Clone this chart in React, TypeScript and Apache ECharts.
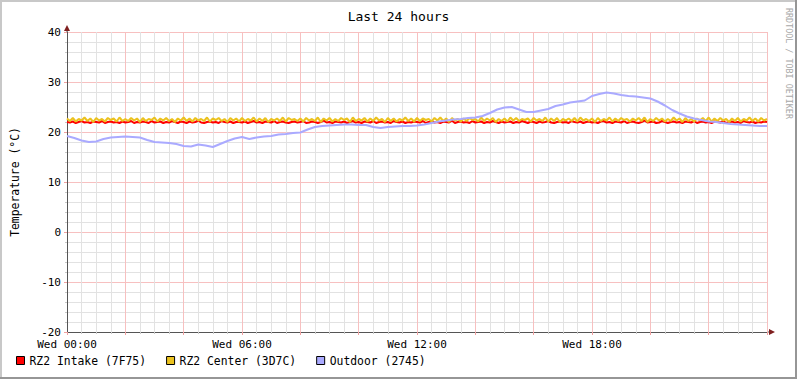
import React, { useEffect, useRef } from 'react';
import * as echarts from 'echarts';

const TITLE = 'Last 24 hours';
const Y_NAME = 'Temperature (°C)';
const WATERMARK = 'RRDTOOL / TOBI OETIKER';
const SERIES_NAMES = ['RZ2 Intake (7F75)', 'RZ2 Center (3D7C)', 'Outdoor (2745)'];
const SERIES_COLORS = ['#FF0000', '#EBC21E', '#AAAAFF'];
const X_LABEL_HOURS = [0, 6, 12, 18];
const X_TICK_LABELS = ['Wed 00:00', 'Wed 06:00', 'Wed 12:00', 'Wed 18:00'];
const Y_MIN = -20;
const Y_MAX = 40;
const Y_STEP = 10;

// 6-minute samples (0.1 h) over 24 h
const FINE_STEP_H = 0.1;
const INTAKE = [
  22.0, 21.9, 22.1, 21.8, 22.0, 22.2, 21.9, 22.0, 21.8, 22.1, 22.0, 21.9, 22.2, 21.8, 22.0, 22.1, 21.9, 22.0, 21.8, 22.1,
  21.9, 22.0, 22.2, 21.8, 22.0, 21.9, 22.1, 22.0, 21.8, 22.2, 21.9, 22.0, 22.1, 21.8, 22.0, 21.9, 22.2, 22.0, 21.8, 22.1,
  22.0, 21.8, 22.1, 21.9, 22.0, 22.3, 21.9, 21.8, 22.0, 22.1, 21.9, 22.0, 21.8, 22.2, 22.0, 21.9, 22.1, 21.8, 22.0, 22.0,
  21.9, 22.1, 21.8, 22.0, 22.2, 21.9, 22.0, 21.8, 22.1, 22.0, 21.9, 22.2, 21.8, 22.0, 22.1, 21.9, 21.8, 22.0, 22.1, 21.9,
  22.0, 22.2, 21.8, 21.9, 22.1, 22.0, 21.8, 22.0, 22.3, 21.9, 22.0, 21.8, 22.1, 22.0, 21.9, 22.1, 21.8, 22.0, 22.2, 21.9,
  22.0, 21.8, 22.1, 22.0, 21.9, 22.2, 21.8, 22.0, 22.1, 21.9, 22.0, 21.8, 22.2, 22.0, 21.9, 22.1, 21.8, 22.0, 21.9, 22.1,
  22.0, 21.9, 22.2, 21.8, 22.0, 22.1, 21.9, 22.0, 21.8, 22.1, 22.0, 21.9, 22.3, 21.8, 22.0, 22.1, 21.9, 22.0, 21.8, 22.2,
  21.9, 22.0, 22.1, 21.8, 22.0, 21.9, 22.2, 22.0, 21.8, 22.1, 21.9, 22.0, 22.1, 21.8, 22.0, 21.9, 22.2, 22.0, 21.8, 22.1,
  22.0, 21.8, 22.1, 21.9, 22.0, 22.2, 21.9, 21.8, 22.0, 22.1, 21.9, 22.0, 21.8, 22.2, 22.0, 21.9, 22.1, 21.8, 22.0, 22.1,
  21.9, 22.0, 21.8, 22.1, 22.2, 21.9, 22.0, 21.8, 22.1, 22.0, 21.9, 22.2, 21.8, 22.0, 22.1, 21.9, 21.8, 22.0, 22.3, 21.9,
  22.0, 22.1, 21.8, 21.9, 22.2, 22.0, 21.8, 22.0, 22.1, 21.9, 22.0, 21.8, 22.1, 22.0, 21.9, 22.2, 21.8, 22.0, 22.1, 21.9,
  22.0, 21.8, 22.1, 22.0, 21.9, 22.2, 21.8, 22.0, 22.1, 21.9, 22.0, 21.8, 22.2, 22.0, 21.9, 22.1, 21.8, 22.0, 21.9, 22.1,
  22.0,
];
const CENTER = [
  22.7, 22.2, 22.8, 22.1, 22.6, 22.3, 22.9, 22.2, 22.7, 22.0, 22.8, 22.3, 22.6, 22.1, 22.8, 22.4, 22.7, 22.1, 22.9, 22.2,
  22.6, 22.2, 22.8, 22.3, 22.7, 22.0, 22.8, 22.2, 22.6, 22.4, 22.9, 22.1, 22.7, 22.3, 22.8, 22.2, 22.6, 22.0, 22.7, 22.3,
  22.9, 22.2, 22.7, 22.1, 22.8, 22.3, 22.6, 22.2, 22.9, 22.1, 22.7, 22.4, 22.8, 22.2, 22.6, 22.0, 22.8, 22.3, 22.7, 22.1,
  22.8, 22.2, 22.6, 22.3, 22.9, 22.1, 22.7, 22.2, 22.8, 22.0, 22.6, 22.3, 22.7, 22.2, 22.9, 22.1, 22.8, 22.4, 22.6, 22.2,
  22.7, 22.1, 22.8, 22.3, 22.6, 22.2, 22.9, 22.0, 22.7, 22.3, 22.8, 22.1, 22.6, 22.2, 22.8, 22.4, 22.7, 22.0, 22.9, 22.2,
  22.6, 22.3, 22.8, 22.1, 22.7, 22.2, 22.9, 22.3, 22.6, 22.0, 22.8, 22.2, 22.7, 22.1, 22.6, 22.3, 22.9, 22.2, 22.7, 22.1,
  22.8, 22.2, 22.7, 22.4, 22.6, 22.1, 22.8, 22.3, 22.9, 22.2, 22.7, 22.0, 22.8, 22.3, 22.6, 22.1, 22.7, 22.2, 22.8, 22.4,
  22.6, 22.1, 22.9, 22.2, 22.7, 22.3, 22.8, 22.0, 22.6, 22.2, 22.7, 22.1, 22.9, 22.3, 22.8, 22.2, 22.6, 22.4, 22.7, 22.1,
  22.8, 22.3, 22.6, 22.2, 22.9, 22.1, 22.7, 22.2, 22.8, 22.0, 22.6, 22.3, 22.7, 22.2, 22.8, 22.1, 22.9, 22.3, 22.6, 22.2,
  22.7, 22.0, 22.8, 22.2, 22.6, 22.3, 22.9, 22.1, 22.7, 22.2, 22.8, 22.4, 22.6, 22.1, 22.7, 22.3, 22.8, 22.2, 22.9, 22.0,
  22.6, 22.2, 22.8, 22.3, 22.7, 22.1, 22.6, 22.2, 22.9, 22.3, 22.7, 22.0, 22.8, 22.2, 22.6, 22.1, 22.7, 22.3, 22.8, 22.2,
  22.9, 22.1, 22.7, 22.2, 22.8, 22.3, 22.6, 22.0, 22.7, 22.2, 22.8, 22.1, 22.6, 22.3, 22.9, 22.2, 22.7, 22.1, 22.8, 22.3,
  22.6,
];

// 15-minute samples (0.25 h) over 24 h
const OUTDOOR_STEP_H = 0.25;
const OUTDOOR = [
  19.2, 18.8, 18.3, 18.0, 18.1, 18.6, 18.9, 19.0, 19.1, 19.0, 18.9, 18.4, 18.0, 17.9, 17.8, 17.6,
  17.2, 17.1, 17.5, 17.3, 17.0, 17.6, 18.2, 18.7, 19.0, 18.6, 18.9, 19.1, 19.2, 19.5, 19.6, 19.8,
  19.9, 20.5, 21.0, 21.2, 21.3, 21.4, 21.5, 21.5, 21.4, 21.4, 21.0, 20.8, 21.0, 21.1, 21.2, 21.2,
  21.3, 21.5, 21.8, 22.1, 22.3, 22.5, 22.6, 22.8, 22.9, 23.2, 23.8, 24.5, 24.9, 25.0, 24.5, 24.0,
  24.0, 24.3, 24.6, 25.2, 25.5, 25.9, 26.1, 26.3, 27.2, 27.6, 27.9, 27.7, 27.4, 27.2, 27.1, 26.9,
  26.7, 26.1, 25.3, 24.4, 23.7, 23.1, 22.7, 22.4, 22.1, 22.0, 21.8, 21.6, 21.5, 21.4, 21.3, 21.2,
  21.2,
];

const FONT = '"DejaVu Sans Mono", monospace';

export default function App() {
  const ref = useRef<HTMLDivElement>(null);
  useEffect(() => {
    if (!ref.current) return;
    const chart = echarts.init(ref.current, undefined, { renderer: 'svg' });
    const gl = 67, gt = 32, gw = 700, gh = 300;
    const arrowColor = '#7F1F1F';
    const option: any = {
      animation: false,
      backgroundColor: '#ffffff',
      title: {
        text: TITLE,
        left: 'center',
        top: 5,
        textStyle: { fontFamily: FONT, fontSize: 13, fontWeight: 'normal', color: '#000' },
      },
      grid: { left: gl, top: gt, width: gw, height: gh, containLabel: false },
      legend: {
        left: 16,
        top: 355,
        padding: 0,
        icon: 'rect',
        itemWidth: 8,
        itemHeight: 8,
        itemGap: 20,
        data: SERIES_NAMES,
        itemStyle: { borderColor: '#000', borderWidth: 1 },
        textStyle: { fontFamily: FONT, fontSize: 11.4, color: '#000' },
      },
      xAxis: {
        type: 'value',
        min: 0,
        max: 24,
        interval: 2,
        axisLine: { show: true, onZero: false, lineStyle: { color: '#555', width: 1 } },
        axisTick: { show: true, length: 3, lineStyle: { color: '#F0A0A0' } },
        minorTick: { show: true, splitNumber: 4, length: 2, lineStyle: { color: '#C8C8C8' } },
        splitLine: { show: true, lineStyle: { color: '#F7C0C0', width: 1 } },
        minorSplitLine: { show: true, lineStyle: { color: '#E2E2E2', width: 1 } },
        axisLabel: {
          fontFamily: FONT,
          fontSize: 11,
          color: '#000',
          margin: 7,
          showMaxLabel: false,
          formatter: (v: number) => {
            const k = X_LABEL_HOURS.indexOf(v);
            return k >= 0 ? X_TICK_LABELS[k] : '';
          },
        },
      },
      yAxis: {
        type: 'value',
        min: Y_MIN,
        max: Y_MAX,
        interval: Y_STEP,
        name: Y_NAME,
        nameLocation: 'middle',
        nameRotate: 90,
        nameGap: 47,
        nameTextStyle: { fontFamily: FONT, fontSize: 11.4, color: '#000' },
        axisLine: { show: true, onZero: false, lineStyle: { color: '#555', width: 1 } },
        axisTick: { show: true, length: 3, lineStyle: { color: '#F0A0A0' } },
        minorTick: { show: true, splitNumber: 5, length: 2, lineStyle: { color: '#C8C8C8' } },
        splitLine: { show: true, lineStyle: { color: '#F7C0C0', width: 1 } },
        minorSplitLine: { show: true, lineStyle: { color: '#E2E2E2', width: 1 } },
        axisLabel: { fontFamily: FONT, fontSize: 11, color: '#000', margin: 6 },
      },
      series: [
        {
          name: SERIES_NAMES[0],
          type: 'line',
          showSymbol: false,
          color: SERIES_COLORS[0],
          lineStyle: { width: 2, color: SERIES_COLORS[0] },
          data: INTAKE.map((v, i) => [i * FINE_STEP_H, v]),
        },
        {
          name: SERIES_NAMES[1],
          type: 'line',
          showSymbol: false,
          color: SERIES_COLORS[1],
          lineStyle: { width: 2, color: SERIES_COLORS[1] },
          data: CENTER.map((v, i) => [i * FINE_STEP_H, v]),
        },
        {
          name: SERIES_NAMES[2],
          type: 'line',
          showSymbol: false,
          color: SERIES_COLORS[2],
          lineStyle: { width: 2, color: SERIES_COLORS[2] },
          data: OUTDOOR.map((v, i) => [i * OUTDOOR_STEP_H, v]),
        },
      ],
      graphic: [
        // 3D frame
        { type: 'rect', shape: { x: 0, y: 0, width: 797, height: 2 }, style: { fill: '#C8C8C8' }, silent: true },
        { type: 'rect', shape: { x: 0, y: 0, width: 2, height: 379 }, style: { fill: '#C8C8C8' }, silent: true },
        { type: 'rect', shape: { x: 0, y: 377, width: 797, height: 2 }, style: { fill: '#969696' }, silent: true },
        { type: 'rect', shape: { x: 795, y: 0, width: 2, height: 379 }, style: { fill: '#969696' }, silent: true },
        // axis arrows
        { type: 'line', shape: { x1: gl + gw, y1: gt + gh, x2: gl + gw + 3, y2: gt + gh }, style: { stroke: '#555', lineWidth: 1 }, silent: true },
        {
          type: 'polygon',
          shape: { points: [[gl + gw + 2, gt + gh - 3], [gl + gw + 8, gt + gh], [gl + gw + 2, gt + gh + 3]] },
          style: { fill: arrowColor },
          silent: true,
        },
        { type: 'line', shape: { x1: gl, y1: gt, x2: gl, y2: gt - 3 }, style: { stroke: '#555', lineWidth: 1 }, silent: true },
        {
          type: 'polygon',
          shape: { points: [[gl - 3, gt - 1], [gl, gt - 7], [gl + 3, gt - 1]] },
          style: { fill: arrowColor },
          silent: true,
        },
        {
          type: 'text',
          x: 789,
          y: 8,
          rotation: -Math.PI / 2,
          silent: true,
          style: {
            text: WATERMARK,
            fill: '#A8A8A8',
            font: '8.4px "DejaVu Sans Mono", monospace',
            textAlign: 'left',
            textVerticalAlign: 'middle',
          },
        },
      ],
    };
    chart.setOption(option);
    return () => chart.dispose();
  }, []);
  return (
    <div
      ref={ref}
      style={{ position: 'absolute', left: 0, top: 0, width: 797, height: 379 }}
    />
  );
}
